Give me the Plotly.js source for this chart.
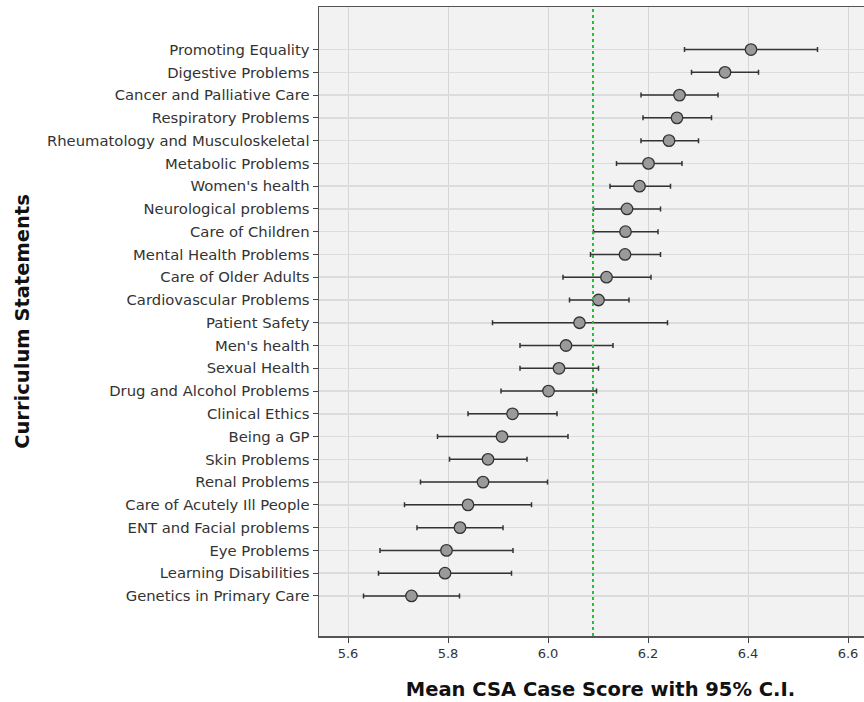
<!DOCTYPE html>
<html>
<head>
<meta charset="utf-8">
<script src="https://cdn.plot.ly/plotly-3.0.1.min.js"></script>
<style>html,body{margin:0;padding:0;background:#fff;overflow:hidden;width:864px;height:702px;}#chart{width:882px;height:702px;}</style>
</head>
<body>
<div id="chart"></div>
<script>
const categories = [
  "Promoting Equality", "Digestive Problems", "Cancer and Palliative Care", "Respiratory Problems",
  "Rheumatology and Musculoskeletal", "Metabolic Problems", "Women's health", "Neurological problems",
  "Care of Children", "Mental Health Problems", "Care of Older Adults", "Cardiovascular Problems",
  "Patient Safety", "Men's health", "Sexual Health", "Drug and Alcohol Problems", "Clinical Ethics",
  "Being a GP", "Skin Problems", "Renal Problems", "Care of Acutely Ill People", "ENT and Facial problems",
  "Eye Problems", "Learning Disabilities", "Genetics in Primary Care"
];
const means = [6.406, 6.354, 6.263, 6.258, 6.242, 6.201, 6.183, 6.158, 6.155, 6.154, 6.117, 6.101,
  6.063, 6.036, 6.022, 6.001, 5.929, 5.908, 5.880, 5.870, 5.840, 5.824, 5.797, 5.794, 5.727];
const lowerCI = [6.273, 6.287, 6.186, 6.190, 6.186, 6.137, 6.124, 6.091, 6.091, 6.085, 6.030, 6.043,
  5.889, 5.944, 5.944, 5.906, 5.840, 5.779, 5.803, 5.745, 5.713, 5.738, 5.664, 5.661, 5.631];
const upperCI = [6.539, 6.421, 6.340, 6.327, 6.301, 6.268, 6.245, 6.225, 6.220, 6.225, 6.206, 6.162,
  6.239, 6.130, 6.101, 6.097, 6.018, 6.040, 5.958, 5.999, 5.967, 5.910, 5.930, 5.927, 5.823];
const referenceLine = 6.09;
const xTicks = [5.6, 5.8, 6.0, 6.2, 6.4, 6.6];
const xTickLabels = ["5.6", "5.8", "6.0", "6.2", "6.4", "6.6"];

const errPlus = means.map((m, i) => upperCI[i] - m);
const errMinus = means.map((m, i) => m - lowerCI[i]);

const trace = {
  type: 'scatter',
  mode: 'markers',
  x: means,
  y: categories,
  marker: {size: 11.5, color: '#9a9a9a', line: {color: '#333333', width: 1.3}},
  error_x: {type: 'data', symmetric: false, array: errPlus, arrayminus: errMinus,
            color: '#333333', thickness: 1.5, width: 2.5},
  hoverinfo: 'x+y'
};

const layout = {
  width: 882, height: 702,
  margin: {l: 319, r: 0, t: 7, b: 66},
  paper_bgcolor: '#ffffff',
  plot_bgcolor: '#f2f2f2',
  showlegend: false,
  font: {family: 'DejaVu Sans, sans-serif', color: '#333333'},
  xaxis: {
    range: [5.542, 6.668],
    tickvals: xTicks, ticktext: xTickLabels,
    ticks: 'outside', ticklen: 5, tickwidth: 1, tickcolor: '#444',
    showgrid: true, gridcolor: '#d6d6d6', gridwidth: 1,
    showline: true, linecolor: '#555555', linewidth: 1.5, mirror: true,
    zeroline: false,
    tickfont: {size: 13, color: '#333'},
    title: {text: 'Mean CSA Case Score with 95% C.I.', font: {size: 19.5, color: '#111', family: 'DejaVu Sans, sans-serif', weight: 'bold'}, standoff: 22}
  },
  yaxis: {
    type: 'category',
    categoryorder: 'array', categoryarray: categories,
    range: [25.76, -1.87],
    ticks: 'outside', ticklen: 5, tickwidth: 1, tickcolor: '#444',
    showgrid: true, gridcolor: '#dcdcdc', gridwidth: 1.5,
    showline: true, linecolor: '#555555', linewidth: 1.5,
    zeroline: false,
    tickfont: {size: 14.8, color: '#333'},
    automargin: false,
    title: {text: 'Curriculum Statements', font: {size: 19.5, color: '#111', family: 'DejaVu Sans, sans-serif', weight: 'bold'}, standoff: 12}
  },
  shapes: [{
    type: 'line', xref: 'x', yref: 'paper', x0: referenceLine, x1: referenceLine, y0: 0, y1: 1,
    line: {color: '#22c33a', width: 2, dash: 'dot'}
  }]
};

Plotly.newPlot('chart', [trace], layout, {displayModeBar: false, staticPlot: true});
</script>
</body>
</html>
